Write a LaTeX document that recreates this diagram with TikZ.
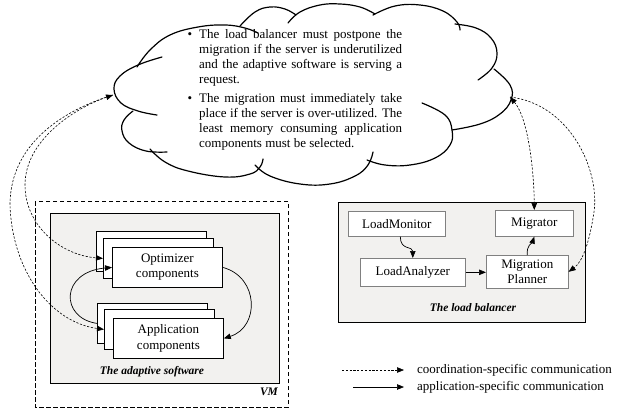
\documentclass[tikz,border=0pt]{standalone}
\usepackage{fontspec}
\setmainfont{Liberation Serif}
\usetikzlibrary{arrows.meta}

\definecolor{panelgray}{RGB}{242,241,239}
\definecolor{boxedge}{RGB}{128,128,128}

\begin{document}
\begin{tikzpicture}[x=1pt,y=-1pt,
  txt/.style={font=\fontsize{13}{15.2}\selectfont},
  lbl/.style={font=\fontsize{11.5}{13}\selectfont\bfseries\itshape, inner sep=0},
  panel/.style={draw=black, line width=0.9pt, fill=panelgray},
  vmframe/.style={draw=black, line width=0.9pt, dash pattern=on 4.5pt off 2.5pt},
  stackbox/.style={draw=black, line width=0.8pt, fill=white, minimum width=110pt,
    minimum height=40pt, anchor=north west, inner sep=0, align=center, txt},
  lbbox/.style={draw=boxedge, line width=0.6pt, fill=white, anchor=north west,
    inner sep=0, align=center, txt},
  cloudline/.style={line width=1.2pt, line cap=round},
  arrowhd/.style={-{Triangle[length=7pt,width=5.5pt]}},
  twohd/.style={{Triangle[length=7pt,width=5.5pt]}-{Triangle[length=7pt,width=5.5pt]}},
  coordline/.style={line width=0.6pt, dash pattern=on 2.2pt off 1.6pt},
  appline/.style={line width=0.7pt}
]
\useasboundingbox (0,0) rectangle (619,408);

% ---------- the cloud with the migration rules ----------
\draw[cloudline] plot[smooth, tension=0.7] coordinates
  {(162,57) (138,65) (120,76) (114,89) (121,103) (138,111) (157,115)};
\draw[cloudline] plot[smooth, tension=0.7] coordinates
  {(133,111) (124,120) (122,131) (129,143) (146,151) (167,152)};
\draw[cloudline] plot[smooth, tension=0.7] coordinates
  {(150,149) (165,162) (188,171) (225,177) (250,174) (260,167) (263,159)};
\draw[cloudline] plot[smooth, tension=0.7] coordinates
  {(255,165) (270,176) (300,184) (330,184) (355,176) (368,165) (373,152)};
\draw[cloudline] plot[smooth, tension=0.7] coordinates
  {(367,160) (385,165) (410,165) (435,158) (450,145) (452,130) (445,115) (422,103)};
\draw[cloudline] plot[smooth, tension=0.7] coordinates
  {(452,130) (480,124) (500,114) (511,100) (510,85) (494,69)};
\draw[cloudline] plot[smooth, tension=0.7] coordinates
  {(455,24) (476,28) (491,38) (497,53) (492,68) (478,80)};
\draw[cloudline] plot[smooth, tension=0.7] coordinates
  {(373,15) (395,6) (420,5) (443,11) (457,22) (460,30)};
\draw[cloudline] plot[smooth, tension=0.7] coordinates
  {(288,23) (300,12) (320,5) (340,4) (360,7) (375,14)};
\draw[cloudline] plot[smooth, tension=0.7] coordinates
  {(240,26) (255,12) (270,7) (285,9) (296,15)};
\draw[cloudline] plot[smooth, tension=0.7] coordinates
  {(137,67) (150,50) (170,35) (198,27) (225,25) (245,28) (258,33)};

\node[txt, anchor=north west, inner sep=0, align=left] (rules) at (199,29) {%
\llap{\textbullet\hspace{7pt}}\makebox[203pt][s]{The load balancer must postpone the}\\
\makebox[203pt][s]{migration if the server is underutilized}\\
\makebox[203pt][s]{and the adaptive software is serving a}\\
request.\\[3pt]
\llap{\textbullet\hspace{7pt}}\makebox[203pt][s]{The migration must immediately take}\\
\makebox[203pt][s]{place if the server is over-utilized. The}\\
\makebox[203pt][s]{least memory consuming application}\\
components must be selected.};

\coordinate (cl) at (113,95);
\coordinate (cr) at (510,97);

% ---------- the VM with the adaptive software ----------
\draw[vmframe] (35,201) rectangle (288,407);
\draw[panel] (50,213) rectangle (279,383);

\node[stackbox] (opt3) at (96,231) {};
\node[stackbox] (opt2) at (103,238) {};
\node[stackbox] (opt1) at (112,247) {Optimizer\\components};

\node[stackbox] (app3) at (97,303) {};
\node[stackbox] (app2) at (104,309) {};
\node[stackbox] (app1) at (113,318) {Application\\components};

\node[lbl] (adlbl) at (152,372) {The adaptive software};
\node[lbl] (vmlbl) at (269,392) {VM};

% ---------- the load balancer ----------
\draw[panel] (338,202) rectangle (585,322);
\node[lbbox, minimum width=97pt, minimum height=25pt] (mon) at (348,211) {LoadMonitor};
\node[lbbox, minimum width=78pt, minimum height=26pt] (mig) at (495,210) {Migrator};
\node[lbbox, minimum width=105pt, minimum height=28pt] (ana) at (360,258) {LoadAnalyzer};
\node[lbbox, minimum width=82pt, minimum height=33pt] (plan) at (486,255) {Migration\\Planner};
\node[lbl] (lblbl) at (473,308) {The load balancer};

% ---------- application-specific communication ----------
\draw[appline, arrowhd] (opt1.east) .. controls (259,277) and (260,327) .. (app1.east);
\draw[appline, arrowhd] (app3.west) .. controls (60,318) and (60,272) .. (opt1.west);
\draw[appline, arrowhd] ([xshift=3.5pt]mon.south) .. controls +(0,14) and +(0,-12) .. (ana.north);
\draw[appline, arrowhd] (ana.east) -- (ana.east -| plan.west);
\draw[appline, arrowhd] (plan.north) .. controls +(-1,-10) and +(-2,6) .. (mig.south);

% ---------- coordination-specific communication ----------
\draw[coordline, twohd] (cl) .. controls (75,108) and (25,140) .. (25,185)
  .. controls (25,225) and (60,255) .. (opt2.west);
\draw[coordline, arrowhd] (cl) .. controls (70,108) and (10,140) .. (10,205)
  .. controls (12,270) and (50,322) .. (app2.west);
\draw[coordline, twohd] (cr) .. controls (528,118) and (534,170) .. (mig.north);
\draw[coordline, arrowhd] (cr) .. controls (570,104) and (600,170) .. (594,212)
  .. controls (589,245) and (582,262) .. (plan.east);

% ---------- legend ----------
\coordinate (lgA1) at (342,370);
\coordinate (lgA2) at (404,370);
\coordinate (lgB1) at (353,387);
\coordinate (lgB2) at (404,387);
\draw[coordline, arrowhd] (lgA1) -- (lgA2);
\draw[appline, arrowhd] (lgB1) -- (lgB2);
\node[txt, anchor=west, inner sep=0] (lgAt) at (417,370) {coordination-specific communication};
\node[txt, anchor=west, inner sep=0] (lgBt) at (417,387) {application-specific communication};
\end{tikzpicture}
\end{document}
